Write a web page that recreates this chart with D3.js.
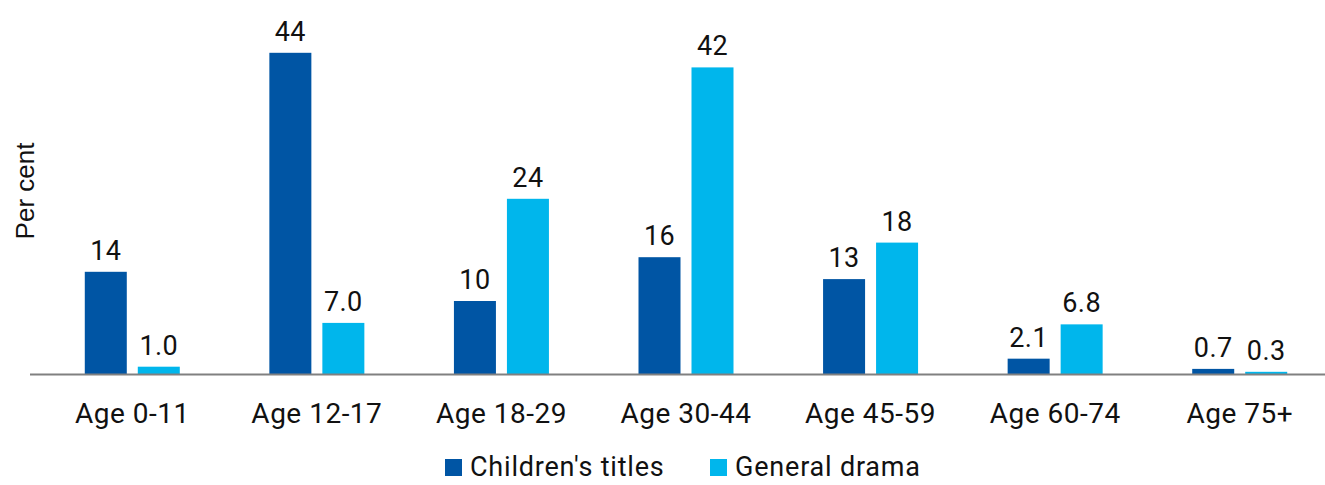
<!DOCTYPE html>
<html>
<head>
<meta charset="utf-8">
<script src="https://cdn.jsdelivr.net/npm/d3@7"></script>
<style>
  html, body { margin: 0; padding: 0; background: #fff; }
  svg { display: block; }
  text { font-family: Roboto, "Noto Sans", sans-serif; fill: #111; }
</style>
</head>
<body>
<svg id="chart" width="1325" height="485"></svg>
<script>
// Age bands on the x axis
const categories = ["Age 0-11", "Age 12-17", "Age 18-29", "Age 30-44", "Age 45-59", "Age 60-74", "Age 75+"];
// Share of viewing, per cent
const childrensTitles = [14, 44, 10, 16, 13, 2.1, 0.7];
const generalDrama = [1.0, 7.0, 24, 42, 18, 6.8, 0.3];
// Printed labels for each bar
const childrensLabels = ["14", "44", "10", "16", "13", "2.1", "0.7"];
const dramaLabels = ["1.0", "7.0", "24", "42", "18", "6.8", "0.3"];
const seriesNames = ["Children's titles", "General drama"];
const colors = ["#0055a4", "#00b6ec"];

const series = [
  { name: seriesNames[0], values: childrensTitles, labels: childrensLabels, color: colors[0] },
  { name: seriesNames[1], values: generalDrama, labels: dramaLabels, color: colors[1] }
];

const svg = d3.select("#chart");
const baseline = 374;

const x = d3.scaleBand().domain(categories).range([40, 1332]).paddingInner(0).paddingOuter(0);
const sub = d3.scaleBand().domain([0, 1])
  .range([x.bandwidth() / 2 - 47.5, x.bandwidth() / 2 + 47.5])
  .paddingInner(0.2075).paddingOuter(0);
const y = d3.scaleLinear().domain([0, 45]).range([baseline, 45.5]);

// Bars and value labels
const groups = svg.append("g").selectAll("g")
  .data(categories)
  .join("g")
  .attr("transform", d => `translate(${x(d)},0)`);

series.forEach((s, si) => {
  groups.append("rect")
    .attr("x", sub(si))
    .attr("width", sub.bandwidth())
    .attr("y", (d, i) => y(s.values[i]))
    .attr("height", (d, i) => baseline - y(s.values[i]))
    .attr("fill", s.color);
  groups.append("text")
    .attr("x", sub(si) + sub.bandwidth() / 2)
    .attr("y", (d, i) => y(s.values[i]) - 12)
    .attr("text-anchor", "middle")
    .style("font-size", "27px")
    .style("letter-spacing", "0.4px")
    .text((d, i) => s.labels[i]);
});

// Baseline axis
const xAxis = d3.axisBottom(x).tickSize(0).tickPadding(29);
const axisG = svg.append("g").attr("transform", `translate(0,${baseline})`).call(xAxis);
axisG.select(".domain").remove();
axisG.selectAll("text")
  .style("font-size", "28px")
  .style("letter-spacing", "0.5px")
  .attr("fill", "#111");
svg.append("line")
  .attr("x1", 30).attr("x2", 1325)
  .attr("y1", baseline + 0.5).attr("y2", baseline + 0.5)
  .attr("stroke", "#808080").attr("stroke-width", 2);

// Y axis title
svg.append("text")
  .attr("transform", "translate(34,191) rotate(-90)")
  .attr("text-anchor", "middle")
  .style("font-family", "'Liberation Sans', Arial, sans-serif")
  .style("font-size", "26px")
  .text("Per cent");

// Legend
const legendX = [445, 710];
const legend = svg.append("g").selectAll("g")
  .data(series)
  .join("g")
  .attr("transform", (d, i) => `translate(${legendX[i]},459)`);
legend.append("rect").attr("width", 17).attr("height", 17).attr("fill", d => d.color);
legend.append("text")
  .attr("x", 25).attr("y", 17)
  .style("font-size", "27px")
  .style("letter-spacing", "0.8px")
  .text(d => d.name);
</script>
</body>
</html>
